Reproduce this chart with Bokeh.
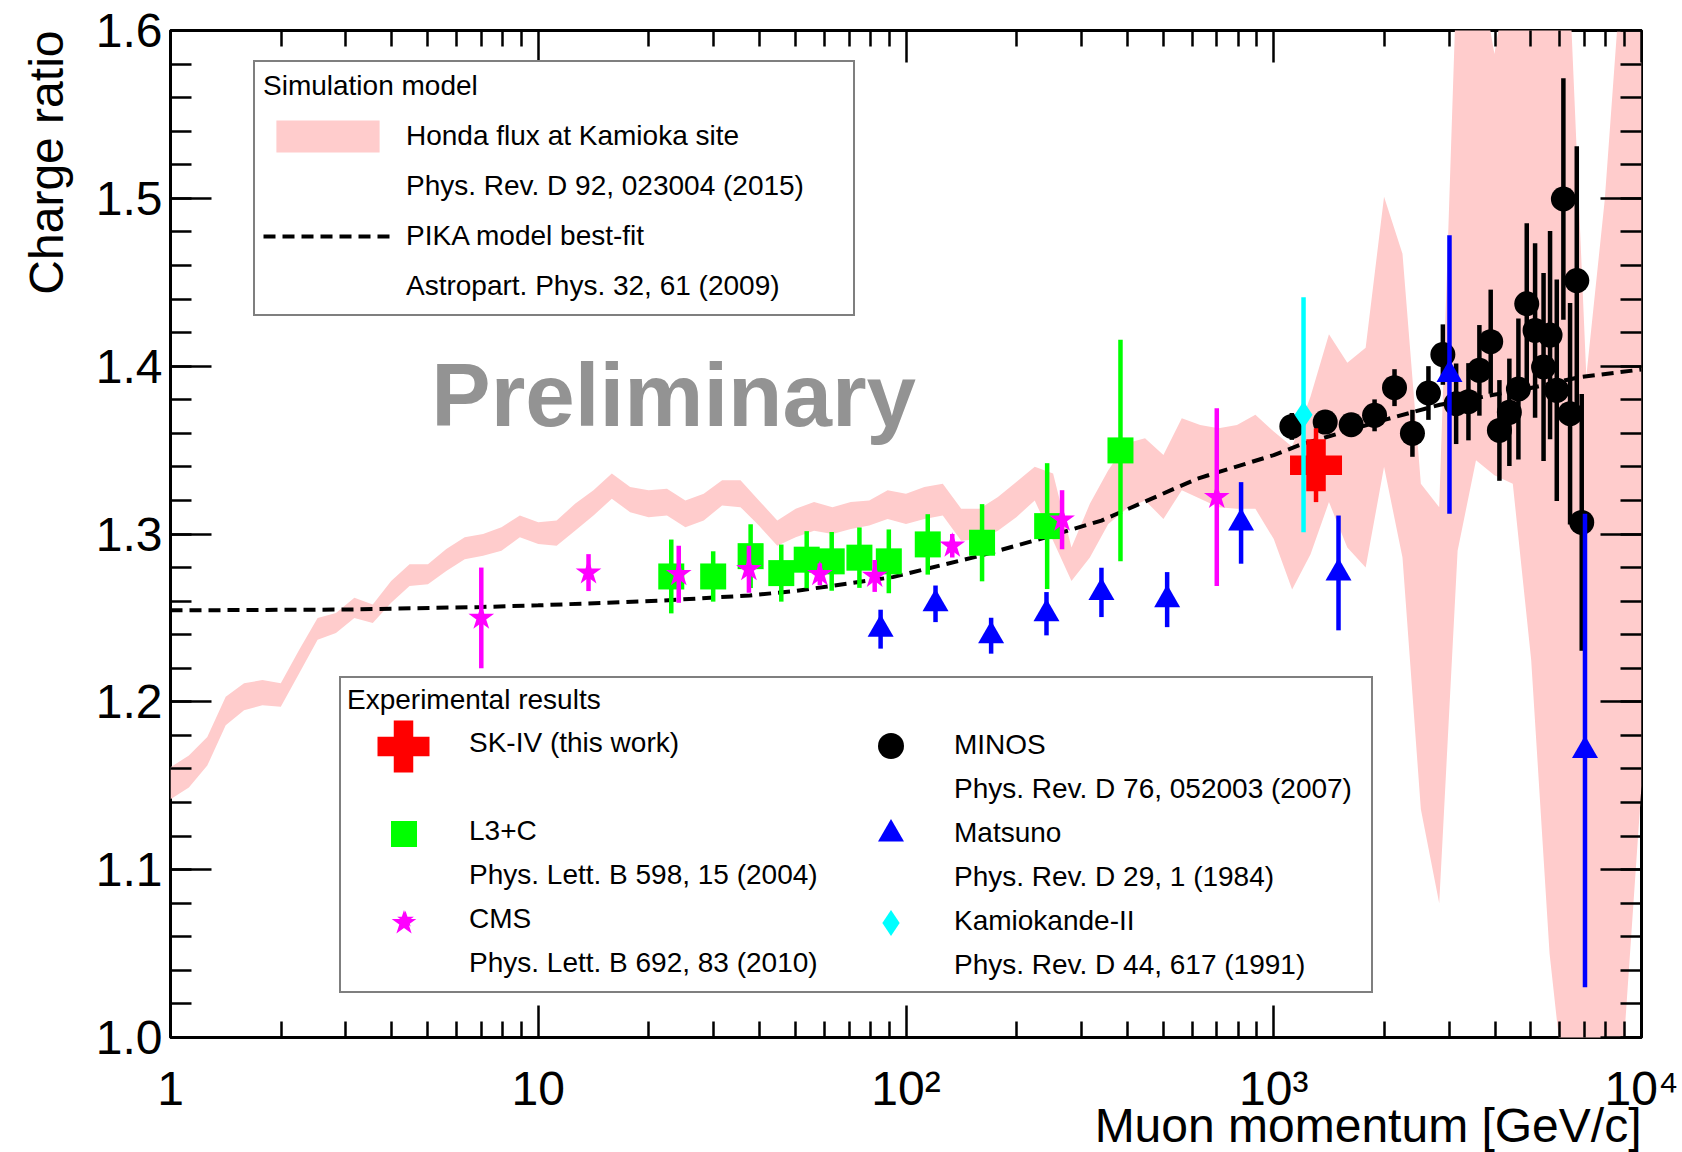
import json
import numpy as np
from bokeh.plotting import figure
from bokeh.models import (FixedTicker, SingleIntervalTicker, LinearAxis, LogAxis, Title,
                          CustomJSTickFormatter, PrintfTickFormatter, Legend, LegendItem, Label)
from bokeh.embed import file_html
from bokeh.resources import INLINE

FONT = "Liberation Sans"

# ---------------- Simulation: Honda flux band (upper / lower edge) ----------------
honda_p = [1.0, 1.122, 1.259, 1.413, 1.585, 1.778, 1.995, 2.239, 2.512, 2.818,
           3.162, 3.548, 3.981, 4.467, 5.012, 5.623, 6.310, 7.079, 7.943, 8.913,
           10.0, 11.22, 12.59, 14.13, 15.85, 17.78, 19.95, 22.39, 25.12, 28.18,
           31.62, 35.48, 39.81, 44.67, 50.12, 56.23, 63.10, 70.79, 79.43, 89.13,
           100.0, 112.2, 125.9, 141.3, 158.5, 177.8, 199.5, 223.9, 251.2, 281.8,
           316.2, 354.8, 398.1, 446.7, 501.2, 562.3, 631.0, 707.9, 794.3, 891.3,
           1000.0, 1122.0, 1259.0, 1413.0, 1585.0, 1778.0, 1995.0, 2239.0, 2512.0, 2818.0,
           3162.0, 3548.0, 3981.0, 4467.0, 5012.0, 5623.0, 6310.0, 7079.0, 7943.0, 8913.0,
           10000.0]
honda_hi = [1.161, 1.168, 1.179, 1.203, 1.211, 1.213, 1.211, 1.231, 1.250, 1.253,
            1.262, 1.258, 1.272, 1.282, 1.282, 1.291, 1.298, 1.300, 1.304, 1.311,
            1.307, 1.308, 1.318, 1.326, 1.336, 1.328, 1.326, 1.327, 1.320, 1.324,
            1.332, 1.332, 1.320, 1.308, 1.315, 1.319, 1.316, 1.319, 1.320, 1.326,
            1.324, 1.328, 1.330, 1.315, 1.315, 1.322, 1.331, 1.340, 1.336, 1.292,
            1.318, 1.338, 1.354, 1.357, 1.347, 1.369, 1.365, 1.363, 1.365, 1.371,
            1.361, 1.352, 1.382, 1.419, 1.402, 1.411, 1.501, 1.467, 1.330, 1.316,
            1.65, 1.65, 1.586, 1.65, 1.65, 1.65, 1.65, 1.394, 1.499, 1.65,
            1.65]
honda_lo = [1.142, 1.149, 1.162, 1.186, 1.195, 1.198, 1.197, 1.217, 1.237, 1.241,
            1.250, 1.247, 1.259, 1.269, 1.270, 1.278, 1.285, 1.287, 1.290, 1.298,
            1.294, 1.293, 1.302, 1.311, 1.321, 1.313, 1.310, 1.311, 1.304, 1.308,
            1.317, 1.316, 1.305, 1.293, 1.298, 1.302, 1.300, 1.303, 1.305, 1.309,
            1.306, 1.309, 1.311, 1.296, 1.297, 1.302, 1.310, 1.320, 1.296, 1.272,
            1.286, 1.306, 1.315, 1.320, 1.309, 1.326, 1.321, 1.316, 1.315, 1.315,
            1.297, 1.267, 1.288, 1.319, 1.292, 1.280, 1.340, 1.286, 1.136, 1.080,
            1.290, 1.344, 1.335, 1.330, 1.225, 1.050, 0.95, 0.95, 0.95, 0.99,
            1.15]

# ---------------- Simulation: PIKA model best fit ----------------
pika_p = [1, 3, 7, 10, 22, 37.6, 50, 92, 160, 240, 340, 620, 1000, 1175, 2000, 2830, 5000, 6800, 10000]
pika_v = [1.2545, 1.255, 1.2565, 1.2575, 1.2604, 1.2634, 1.266, 1.2743, 1.2872, 1.298,
          1.308, 1.333, 1.347, 1.353, 1.368, 1.377, 1.387, 1.3935, 1.398]

# ---------------- Experimental results ----------------
sk_p = [1303]
sk_v = [1.341]
sk_e = [0.022]

l3c_p = [23.0, 29.9, 37.8, 45.8, 53.7, 62.8, 74.7, 89.8, 114.6, 161, 242, 383]
l3c_v = [1.2747, 1.2747, 1.2868, 1.2767, 1.2847, 1.2837, 1.2859, 1.2837, 1.2938, 1.2948, 1.3047, 1.3498]
l3c_e = [0.022, 0.015, 0.019, 0.017, 0.017, 0.0175, 0.018, 0.019, 0.018, 0.023, 0.0375, 0.066]

cms_p = [7.0, 13.7, 24.1, 37.4, 58.3, 82.2, 133.6, 265.7, 700]
cms_v = [1.250, 1.277, 1.276, 1.279, 1.276, 1.275, 1.293, 1.3085, 1.322]
cms_e = [0.030, 0.011, 0.017, 0.014, 0.0065, 0.0095, 0.007, 0.0176, 0.053]

minos_p = [1120, 1380, 1624, 1880, 2130, 2383, 2634, 2883, 3133, 3384, 3624, 3890,
           4108, 4372, 4627, 4875, 5136, 5416, 5641, 5883, 6132, 6394, 6668, 6878]
minos_v = [1.3641, 1.3667, 1.3651, 1.3707, 1.3872, 1.3600, 1.3840, 1.4069, 1.3776, 1.3788, 1.3975, 1.4146,
           1.3617, 1.3725, 1.3864, 1.4372, 1.4213, 1.3995, 1.4185, 1.3856, 1.4996, 1.3717, 1.4510, 1.3069]
minos_e = [0.008, 0.007, 0.007, 0.0095, 0.011, 0.014, 0.016, 0.018, 0.024, 0.023, 0.027, 0.031,
           0.030, 0.032, 0.042, 0.048, 0.052, 0.056, 0.062, 0.066, 0.072, 0.066, 0.080, 0.0765]

mats_p = [85.3, 120.3, 170.4, 241, 340, 513, 815, 1500, 3005, 7020]
mats_v = [1.2433, 1.2584, 1.2394, 1.2525, 1.2652, 1.2609, 1.3066, 1.2768, 1.395, 1.171]
mats_e = [0.0116, 0.0109, 0.0107, 0.0129, 0.0147, 0.0164, 0.0243, 0.0342, 0.083, 0.141]

kam_p = [1205]
kam_v = [1.371]
kam_e = [0.070]

# ---------------- Axis ticks ----------------
x_major = [1, 10, 100, 1000, 10000]
x_major_labels = ["1", "10", "10\u00b2", "10\u00b3", "10\u2074"]
x_minor = [m * 10 ** k for k in range(4) for m in range(2, 10)]

# ---------------- Figure ----------------
FRAME_L, FRAME_B = 170, 1037   # frame left / bottom on the canvas (px)
p = figure(frame_width=1471, frame_height=1007,
           x_axis_type="log", x_range=(1, 1e4), y_range=(1.0, 1.6),
           output_backend="svg", toolbar_location=None,
           min_border_left=FRAME_L, min_border_right=41, min_border_top=30, min_border_bottom=115)
p.background_fill_color = "white"
p.border_fill_color = "white"
p.outline_line_color = "black"
p.outline_line_width = 3
p.grid.visible = False

label_map = json.dumps({str(t): l for t, l in zip(x_major, x_major_labels)})
xfmt = CustomJSTickFormatter(code="const m = %s; return m[String(Math.round(tick))] || '';" % label_map)
blankfmt = CustomJSTickFormatter(code="return '';")

top_axis = LogAxis()
right_axis = LinearAxis()
p.add_layout(top_axis, "above")
p.add_layout(right_axis, "right")

xax = p.below[0]
yax = p.left[0]

for ax in [xax, top_axis]:
    ax.ticker = FixedTicker(ticks=x_major, minor_ticks=x_minor)
    ax.major_tick_in = 32
    ax.minor_tick_in = 16
for ax in [yax, right_axis]:
    ax.ticker = SingleIntervalTicker(interval=0.1, num_minor_ticks=5)
    ax.major_tick_in = 41
    ax.minor_tick_in = 21
for ax in [xax, top_axis, yax, right_axis]:
    ax.axis_line_color = None
    ax.major_tick_out = 0
    ax.minor_tick_out = 0
    ax.major_tick_line_color = "black"
    ax.minor_tick_line_color = "black"
    ax.major_tick_line_width = 2.5
    ax.minor_tick_line_width = 2.5
    ax.major_label_text_font = FONT
    ax.major_label_text_color = "black"
for ax in [top_axis, right_axis]:
    ax.formatter = blankfmt
    ax.major_label_text_font_size = "0px"
    ax.major_label_standoff = 0

xax.formatter = xfmt
xax.major_label_text_font_size = "48px"
xax.major_label_standoff = 24
yax.formatter = PrintfTickFormatter(format="%.1f")
yax.major_label_text_font_size = "48px"
yax.major_label_standoff = 8

# ---- axis titles, placed at the high end of each axis as in the reference
ytitle = Title(text="Charge ratio", align="right", vertical_align="top", standoff=35,
               offset=0, text_font=FONT, text_font_size="48px", text_font_style="normal",
               text_color="black")
p.add_layout(ytitle, "left")

xtitle = Title(text="Muon momentum [GeV/c]", align="right", vertical_align="top", standoff=-38,
               offset=0, text_font=FONT, text_font_size="48px", text_font_style="normal",
               text_color="black")
p.add_layout(xtitle, "below")

# ---------------- Glyphs ----------------
band = p.varea(x=honda_p, y1=honda_lo, y2=honda_hi, fill_color="#ffcccc")
pika = p.line(pika_p, pika_v, line_color="black", line_width=4, line_dash="12 7")


def errbars(px, v, e, color):
    v = np.asarray(v, dtype=float)
    e = np.asarray(e, dtype=float)
    p.segment(x0=px, y0=v - e, x1=px, y1=v + e, line_color=color, line_width=4.5)


errbars(l3c_p, l3c_v, l3c_e, "#00ff00")
l3c = p.scatter(l3c_p, l3c_v, marker="square", size=26, fill_color="#00ff00", line_color=None)
errbars(cms_p, cms_v, cms_e, "#ff00ff")
cms = p.scatter(cms_p, cms_v, marker="star", size=27, fill_color="#ff00ff", line_color=None)
errbars(minos_p, minos_v, minos_e, "black")
minos = p.scatter(minos_p, minos_v, marker="circle", size=25, fill_color="black", line_color=None)
errbars(mats_p, mats_v, mats_e, "#0000ff")
mats = p.scatter(mats_p, mats_v, marker="triangle", size=26, fill_color="#0000ff", line_color=None)
errbars(sk_p, sk_v, sk_e, "#ff0000")
sk = p.scatter(sk_p, sk_v, marker="plus", size=52, fill_color="#ff0000", line_color=None)
errbars(kam_p, kam_v, kam_e, "#00ffff")
kam = p.scatter(kam_p, kam_v, marker="diamond", size=27, fill_color="#00ffff", line_color=None)

blank = p.scatter(x=[], y=[], size=1, fill_alpha=0, line_alpha=0)

# ---------------- Legends ----------------
def style_legend(lg, pad, gw, gh, sp, ls, lw, ts, boxed=True):
    lg.padding = pad
    lg.glyph_width = gw
    lg.glyph_height = gh
    lg.spacing = sp
    lg.label_standoff = ls
    lg.label_width = lw
    lg.label_height = 20
    lg.title_standoff = ts
    lg.margin = 0
    lg.label_text_font = FONT
    lg.label_text_font_size = "28px"
    lg.label_text_color = "black"
    lg.title_text_font = FONT
    lg.title_text_font_size = "28px"
    lg.title_text_font_style = "normal"
    lg.title_text_color = "black"
    if boxed:
        lg.border_line_color = "black"
        lg.border_line_width = 2
        lg.background_fill_color = "white"
        lg.background_fill_alpha = 1.0
    else:
        lg.border_line_alpha = 0
        lg.background_fill_alpha = 0


leg_sim = Legend(items=[
    LegendItem(label="Honda flux at Kamioka site", renderers=[band]),
    LegendItem(label="Phys. Rev. D 92, 023004 (2015)", renderers=[blank]),
    LegendItem(label="PIKA model best-fit", renderers=[pika]),
    LegendItem(label="Astropart. Phys. 32, 61 (2009)", renderers=[blank]),
], title="Simulation model", location=(83, 721))
style_legend(leg_sim, 8, 129, 40, 10, 14, 439, 14)

leg_exp1 = Legend(items=[
    LegendItem(label="SK-IV (this work)", renderers=[sk]),
    LegendItem(label=" ", renderers=[blank]),
    LegendItem(label="L3+C", renderers=[l3c]),
    LegendItem(label="Phys. Lett. B 598, 15 (2004)", renderers=[blank]),
    LegendItem(label="CMS", renderers=[cms]),
    LegendItem(label="Phys. Lett. B 692, 83 (2010)", renderers=[blank]),
], title="Experimental results", location=(169, 44))
style_legend(leg_exp1, 6, 116, 44, 0, 6, 896, 5)

leg_exp2 = Legend(items=[
    LegendItem(label="MINOS", renderers=[minos]),
    LegendItem(label="Phys. Rev. D 76, 052003 (2007)", renderers=[blank]),
    LegendItem(label="Matsuno", renderers=[mats]),
    LegendItem(label="Phys. Rev. D 29, 1 (1984)", renderers=[blank]),
    LegendItem(label="Kamiokande-II", renderers=[kam]),
    LegendItem(label="Phys. Rev. D 44, 617 (1991)", renderers=[blank]),
], location=(656, 44))
style_legend(leg_exp2, 6, 116, 44, 0, 6, 20, 0, boxed=False)

p.add_layout(leg_sim)
p.add_layout(leg_exp1)
p.add_layout(leg_exp2)

# full-size legend symbols (Bokeh draws legend markers at 0.4 x glyph box),
# one borderless single-entry legend per symbol, centred on its legend row
symbol_boxes = [(sk, 130, 403, 745.5), (l3c, 65, 403, 833.5), (cms, 65, 403, 922.5),
                (minos, 65, 890, 745.5), (mats, 65, 890, 833.5), (kam, 65, 890, 922.5)]
for rend, g, cx, cy in symbol_boxes:
    lg = Legend(items=[LegendItem(label=" ", renderers=[rend])],
                location=(cx - g / 2 - FRAME_L, FRAME_B - (cy + g / 2)))
    style_legend(lg, 0, g, g, 0, 0, 0, 0, boxed=False)
    p.add_layout(lg)

# ---------------- Watermark ----------------
p.add_layout(Label(x=5.119, y=1.3831, text="Preliminary", text_font=FONT, text_font_size="89px",
                   text_font_style="bold", text_color="#939393", text_align="left",
                   text_baseline="middle"))

html = file_html(p, INLINE, title="Muon charge ratio")
open("out.html", "w", encoding="utf-8").write(html)
